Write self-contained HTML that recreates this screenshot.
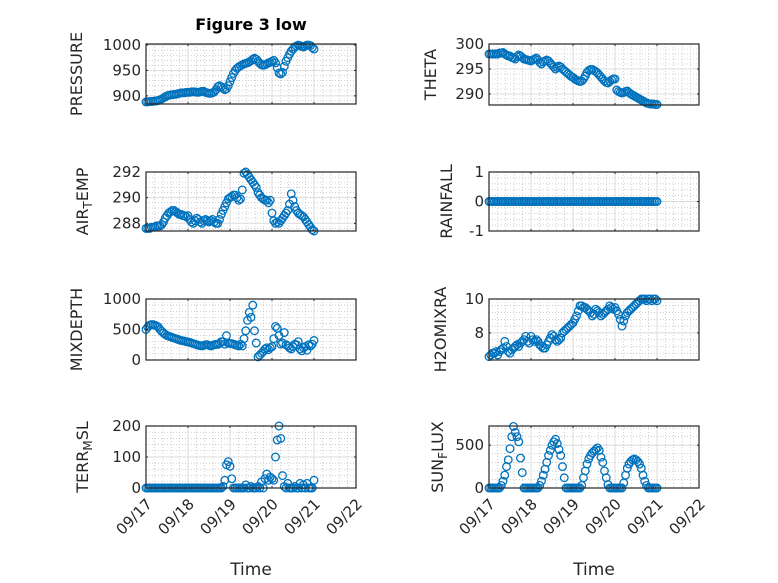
<!DOCTYPE html>
<html><head><meta charset="utf-8"><style>
html,body{margin:0;padding:0;background:#fff;}
svg{display:block;font-family:"DejaVu Sans","Liberation Sans",sans-serif;}
</style></head><body>
<svg id="fig" width="778" height="583" viewBox="0 0 778 583"></svg>
<script>
const hours=[];for(let i=0;i<=96;i++)hours.push(i);
const pressure=[888,888,889,889,889,890,890,891,892,894,896,898,900,901,902,902,903,903,904,905,906,906,906,907,
907,907,908,908,908,907,907,908,909,909,907,906,905,905,906,908,912,918,920,918,915,912,914,920,
928,936,944,950,954,957,959,961,963,964,965,967,969,972,974,972,968,964,961,960,961,963,965,966,
968,970,965,955,945,943,946,958,968,975,982,988,992,996,998,1000,999,997,996,998,1000,1000,999,995,992];
const theta=[298,298,298,298,298,298,298.2,298.2,298.3,298,297.8,297.6,297.6,297.3,297.2,297,297.5,297.8,297.6,297.3,297,296.9,296.8,296.7,
296.6,296.8,297,297.2,296.8,296.3,296,296.4,296.6,296.8,296.6,296.2,295.8,295.4,295,295.3,295.6,295.4,295,294.7,294.4,294.1,293.8,293.5,
293.3,293,292.8,292.6,292.5,292.6,293,293.6,294.3,294.7,294.9,294.9,294.7,294.5,294.2,293.8,293.4,293,292.6,292.3,292.2,292.5,292.8,293,
293,290.8,290.5,290.3,290.2,290.3,290.5,290.6,290.3,290,289.8,289.6,289.4,289.2,289,288.8,288.6,288.4,288.2,288.1,288,288,288,287.9,287.9];
const airTemp=[287.6,287.6,287.6,287.7,287.7,287.7,287.8,287.8,287.8,287.9,288.1,288.4,288.6,288.8,288.9,289,289,288.9,288.8,288.7,288.7,288.6,288.6,288.5,
288.6,288.3,288.1,288,288.2,288.4,288.3,288.1,288,288.2,288.3,288.2,288.1,288.2,288.3,288.1,288,288,288.3,288.7,289,289.3,289.6,289.9,
290,290.1,290.2,290.2,290,289.8,289.9,290.6,291.9,292,291.8,291.6,291.4,291.2,291,290.8,290.4,290.2,290,289.9,289.8,289.8,289.6,289.8,
288.8,288.2,288,288.1,288,288.2,288.4,288.6,288.8,289,289.5,290.3,289.8,289.3,289,288.8,288.7,288.6,288.5,288.3,288.1,287.9,287.7,287.5,287.4];
const rainfall=[0,0,0,0,0,0,0,0,0,0,0,0,0,0,0,0,0,0,0,0,0,0,0,0,0,0,0,0,0,0,0,0,0,0,0,0,0,0,0,0,0,0,0,0,0,0,0,0,0,0,0,0,0,0,0,0,0,0,0,0,0,0,0,0,0,0,0,0,0,0,0,0,0,0,0,0,0,0,0,0,0,0,0,0,0,0,0,0,0,0,0,0,0,0,0,0,0];
const mixDepth=[500,540,570,580,580,570,560,540,500,470,440,420,400,390,380,370,360,350,340,330,320,315,310,300,
295,290,280,270,260,250,240,235,230,240,250,250,240,230,240,250,260,255,270,300,300,260,400,280,
270,270,260,250,240,230,260,230,350,480,650,780,700,900,480,280,50,80,110,140,180,200,170,200,
220,350,550,520,400,260,280,450,250,230,200,180,220,260,250,300,180,150,200,220,160,250,230,260,320];
const h2oMix=[6.6,6.7,6.8,6.8,6.9,6.7,6.9,7.0,7.1,7.5,7.2,6.9,6.8,7.0,7.1,7.2,7.3,7.2,7.4,7.5,7.6,7.8,7.5,7.4,
7.8,7.6,7.5,7.6,7.5,7.3,7.2,7.1,7.1,7.3,7.5,7.7,7.9,7.8,7.6,7.5,7.6,7.7,8.0,8.1,8.2,8.3,8.4,8.5,
8.6,8.8,9.0,9.3,9.6,9.6,9.5,9.5,9.4,9.3,9.2,9.0,9.1,9.4,9.3,9.2,9.0,9.1,9.2,9.3,9.4,9.6,9.5,9.4,
9.5,9.3,9.1,8.8,8.4,8.7,9.0,9.2,9.3,9.4,9.5,9.6,9.7,9.8,9.9,10.0,10.0,10.0,9.9,10.0,10.0,9.9,10.0,10.0,9.9];
const terrMsl=[0,0,0,0,0,0,0,0,0,0,0,0,0,0,0,0,0,0,0,0,0,0,0,0,
0,0,0,0,0,0,0,0,0,0,0,0,0,0,0,0,0,0,0,0,5,25,75,85,
70,30,0,0,0,0,0,0,0,10,0,0,5,0,0,0,5,0,20,0,30,45,25,35,
30,25,100,155,200,160,40,5,0,15,0,0,0,5,0,0,15,0,10,0,15,0,0,0,25];
const sunFlux=[0,0,0,0,0,0,0,30,80,150,250,330,460,600,720,650,600,540,350,180,0,0,0,0,
0,0,0,0,0,30,80,150,220,300,380,440,500,540,570,520,450,380,250,120,0,0,0,0,
0,0,0,0,0,30,120,200,280,340,380,410,430,450,470,440,360,300,200,120,40,0,0,0,
0,0,0,0,0,60,150,230,280,310,330,340,330,310,280,230,150,80,30,0,0,0,0,0,0];
const dateTicks=["09/17","09/18","09/19","09/20","09/21","09/22"];

const NS="http://www.w3.org/2000/svg";
const svg=document.getElementById('fig');
function mk(tag,attrs,parent){const e=document.createElementNS(NS,tag);for(const k in attrs)e.setAttribute(k,attrs[k]);(parent||svg).appendChild(e);return e;}

const panels=[
 {name:'pressure',data:pressure,x0:146,y0:44,y1:104,ymin:884,ymax:1002,ticks:[900,950,1000],minor:10,label:['PRESSURE'],lx:82},
 {name:'theta',data:theta,x0:489,y0:44,y1:105,ymin:287.8,ymax:300,ticks:[290,295,300],minor:1,label:['THETA'],lx:436},
 {name:'air-temp',data:airTemp,x0:146,y0:172,y1:231,ymin:287.4,ymax:292,ticks:[288,290,292],minor:0.4,label:['AIR','T','EMP'],lx:88},
 {name:'rainfall',data:rainfall,x0:489,y0:172,y1:231,ymin:-1,ymax:1,ticks:[-1,0,1],minor:0.2,label:['RAINFALL'],lx:452},
 {name:'mixdepth',data:mixDepth,x0:146,y0:299,y1:360,ymin:0,ymax:1000,ticks:[0,500,1000],minor:100,label:['MIXDEPTH'],lx:82},
 {name:'h2omixra',data:h2oMix,x0:489,y0:299,y1:360,ymin:6.4,ymax:10,ticks:[8,10],minor:0.4,label:['H2OMIXRA'],lx:446},
 {name:'terr-msl',data:terrMsl,x0:146,y0:426,y1:488,ymin:0,ymax:200,ticks:[0,100,200],minor:20,label:['TERR','M','SL'],lx:88},
 {name:'sun-flux',data:sunFlux,x0:489,y0:426,y1:488,ymin:0,ymax:725,ticks:[0,500],minor:100,label:['SUN','F','LUX'],lx:443}
];
const W=210, DAYS=5;

panels.forEach((p,pi)=>{
 const g=mk('g',{});
 
 
 const xs=h=>p.x0+h/24/DAYS*W;
 const ys=v=>p.y1-(v-p.ymin)/(p.ymax-p.ymin)*(p.y1-p.y0);
 mk('rect',{x:p.x0,y:p.y0,width:W,height:p.y1-p.y0,fill:'#fff'},g);
 for(let d=0;d<DAYS*5;d++){ if(d%5===0)continue; const x=p.x0+d/(DAYS*5)*W;
  mk('line',{x1:x,x2:x,y1:p.y0,y2:p.y1,stroke:'#b0b0b0','stroke-width':0.6,'stroke-dasharray':'1,2'},g);}
 const start=Math.ceil(p.ymin/p.minor-1e-9);
 for(let k=start;k*p.minor<=p.ymax+1e-9;k++){const v=k*p.minor; if(p.ticks.some(t=>Math.abs(t-v)<1e-9))continue;
  const y=ys(v); mk('line',{x1:p.x0,x2:p.x0+W,y1:y,y2:y,stroke:'#b0b0b0','stroke-width':0.6,'stroke-dasharray':'1,2'},g);}
 for(let d=1;d<DAYS;d++){const x=p.x0+d/DAYS*W; mk('line',{x1:x,x2:x,y1:p.y0,y2:p.y1,stroke:'#dcdcdc','stroke-width':1},g);}
 p.ticks.forEach(t=>{const y=ys(t); mk('line',{x1:p.x0,x2:p.x0+W,y1:y,y2:y,stroke:'#dcdcdc','stroke-width':1},g);
  mk('line',{x1:p.x0,x2:p.x0+2,y1:y,y2:y,stroke:'#262626','stroke-width':1},g);
  mk('line',{x1:p.x0+W,x2:p.x0+W-2,y1:y,y2:y,stroke:'#262626','stroke-width':1},g);
  const tl=mk('text',{x:p.x0-5,y:y+5,'text-anchor':'end','font-size':15,fill:'#262626'},g);
  tl.textContent=String(t);
  
  
 });
 for(let d=0;d<=DAYS;d++){const x=p.x0+d/DAYS*W;
  mk('line',{x1:x,x2:x,y1:p.y1,y2:p.y1-2,stroke:'#262626','stroke-width':1},g);
  mk('line',{x1:x,x2:x,y1:p.y0,y2:p.y0+2,stroke:'#262626','stroke-width':1},g);
 }
 p.data.forEach((v,i)=>{
  const c=mk('circle',{cx:xs(hours[i]),cy:ys(v),r:3.8,fill:'none',stroke:'#0072BD','stroke-width':1.3},g);
  
  
 });
 mk('rect',{x:p.x0,y:p.y0,width:W,height:p.y1-p.y0,fill:'none',stroke:'#262626','stroke-width':1.2},g);
 const cy=(p.y0+p.y1)/2;
 const lab=mk('text',{x:0,y:0,'text-anchor':'middle','font-size':16,fill:'#262626',transform:`translate(${p.lx},${cy}) rotate(-90)`},g);
 
 
 if(p.label.length===1){lab.textContent=p.label[0];}
 else{const a=mk('tspan',{},lab);a.textContent=p.label[0];
  const b=mk('tspan',{dy:4,'font-size':12},lab);b.textContent=p.label[1];
  const c=mk('tspan',{dy:-4},lab);c.textContent=p.label[2];}
 if(pi>=6){
  dateTicks.forEach((s,d)=>{const x=p.x0+d/DAYS*W;
   const t=mk('text',{x:0,y:0,'text-anchor':'end','font-size':15,fill:'#262626',transform:`translate(${x+7},${p.y1+17}) rotate(-45)`},g);
   t.textContent=s;
   
   
  });
  const xl=mk('text',{x:p.x0+W/2,y:575,'text-anchor':'middle','font-size':17,fill:'#262626'},g);
  xl.textContent='Time';
  
  
 }
});
const title=mk('text',{x:251,y:30,'text-anchor':'middle','font-size':16,'font-weight':'bold',fill:'#000'});
title.textContent='Figure 3 low';


</script>
</body></html>
